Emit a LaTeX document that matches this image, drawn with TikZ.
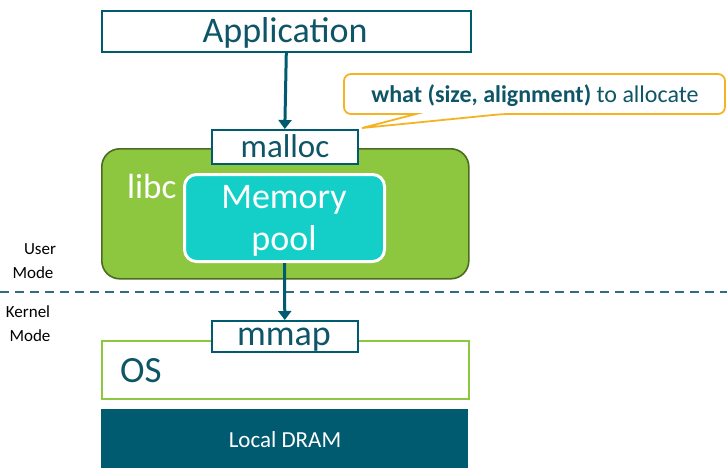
\documentclass[tikz,border=0pt]{standalone}
\usepackage{fontspec}
\setmainfont{Carlito}
\usetikzlibrary{arrows.meta}
\definecolor{deepteal}{HTML}{005A70}
\definecolor{inkteal}{HTML}{0E5568}
\definecolor{leaf}{HTML}{8DC63F}
\definecolor{leafdark}{HTML}{4D6B21}
\definecolor{pool}{HTML}{14CFC8}
\definecolor{amber}{HTML}{F5B324}
\definecolor{divider}{HTML}{2E6E80}
\tikzset{
  fs/.style={font=\fontsize{#1}{#1}\selectfont},
  plainbox/.style={draw=deepteal, line width=1.6pt, fill=white, inner sep=0pt},
  label/.style={anchor=base, inner sep=0pt},
  flow/.style={draw=deepteal, line width=3pt, -{Triangle[length=9pt,width=13pt]}},
  modelabel/.style={label, fs=17, text=black}
}
\begin{document}
\begin{tikzpicture}[x=1pt,y=-1pt]
\useasboundingbox (0,0) rectangle (727,467);

% libc container with its memory pool
\node[draw=leafdark, line width=1.6pt, fill=leaf, rounded corners=18pt,
      minimum width=367pt, minimum height=130pt, anchor=north west] (libc) at (101,148) {};
\node[label, anchor=base west, fs=35, text=white] (libctext) at (127,198) {libc};
\node[draw=white, line width=3pt, fill=pool, rounded corners=12pt,
      minimum width=200pt, minimum height=87pt, anchor=north west] (pool) at (183,173) {};
\node[label, fs=36, text=white] (poolA) at (284,208) {Memory};
\node[label, fs=36, text=white] (poolB) at (284,250) {pool};

% application and allocator entry points
\node[plainbox, minimum width=369pt, minimum height=41pt, anchor=north west] (app) at (101,10) {};
\node[label, fs=36, text=inkteal] (apptext) at (285,42) {Application};
\node[plainbox, minimum width=146pt, minimum height=34pt, anchor=north west] (malloc) at (211,129) {};
\node[label, fs=33, text=inkteal] (malloctext) at (285,157) {malloc};

% user / kernel divider
\coordinate (divL) at (0,292);
\coordinate (divR) at (727,292);
\draw[divider, line width=1.3pt, dash pattern=on 9pt off 6pt] (divL) -- (divR);
\node[modelabel] (userA) at (40,254) {User};
\node[modelabel] (userB) at (33,278) {Mode};
\node[modelabel] (kernelA) at (28,317) {Kernel};
\node[modelabel] (kernelB) at (30,341) {Mode};

% kernel side
\node[draw=leaf, line width=1.6pt, fill=white, minimum width=367pt, minimum height=58pt,
      anchor=north west] (os) at (101,340) {};
\node[label, anchor=base west, fs=37, text=inkteal] (ostext) at (120,382) {OS};
\node[plainbox, minimum width=146pt, minimum height=31pt, anchor=north west] (mmap) at (211,320) {};
\node[label, fs=36, text=inkteal] (mmaptext) at (284,345) {mmap};
\node[fill=deepteal, minimum width=367pt, minimum height=60pt, anchor=north west,
      inner sep=0pt] (dram) at (101,409) {};
\node[label, fs=23, text=white] (dramtext) at (285,447) {Local DRAM};

% calls
\draw[flow] (app.south) -- (malloc.north);
\draw[flow] (pool.south) -- (mmap.north);

% callout
\coordinate (tip) at (362,128);
\draw[draw=amber, line width=1.8pt, fill=white, rounded corners=7pt]
  (344,100) |- (725,74) |- (503,114) [sharp corners] -- (tip) -- (416,114)
  [rounded corners=7pt] -| (344,100) -- cycle;
\node[label, fs=24, text=inkteal] (note) at (535,102) {\textbf{what (size, alignment)} to allocate};
\end{tikzpicture}
\end{document}
